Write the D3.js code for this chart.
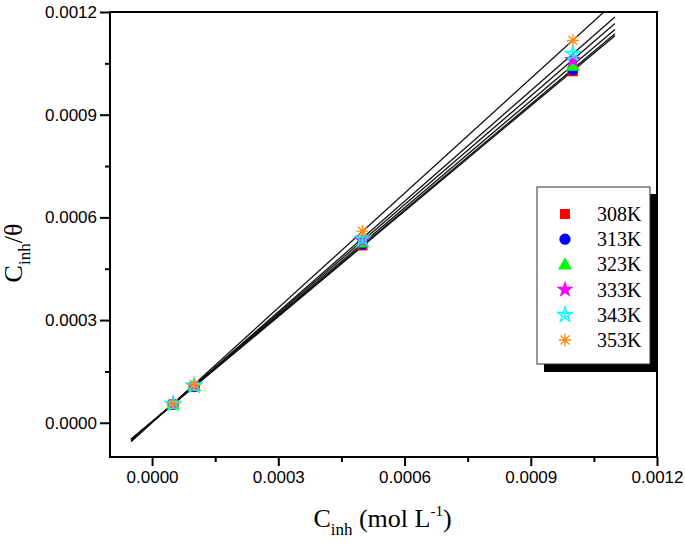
<!DOCTYPE html>
<html><head><meta charset="utf-8">
<script src="https://cdn.jsdelivr.net/npm/d3@7"></script>
<style>body{margin:0;background:#fff}svg{display:block}</style>
</head><body>
<svg id="chart" width="685" height="545"></svg>
<script>
// ---- data ----
const concentrations = [0.00005, 0.0001, 0.0005, 0.001];
const temperatures = ["308K", "313K", "323K", "333K", "343K", "353K"];
const values308 = [0.0000530, 0.000105, 0.000518, 0.001027];
const values313 = [0.0000535, 0.000106, 0.000522, 0.001032];
const values323 = [0.0000540, 0.000107, 0.000527, 0.001043];
const values333 = [0.0000545, 0.000108, 0.000533, 0.001060];
const values343 = [0.0000550, 0.000109, 0.000538, 0.001078];
const values353 = [0.0000560, 0.000112, 0.000560, 0.001117];
const seriesValues = [values308, values313, values323, values333, values343, values353];
const fitRange = [-0.00005, 0.0011];
const xTickValues = [0, 0.0003, 0.0006, 0.0009, 0.0012];
const xMinorTickValues = [0.00015, 0.00045, 0.00075, 0.00105];
const yTickValues = [0, 0.0003, 0.0006, 0.0009, 0.0012];
const yMinorTickValues = [0.00015, 0.00045, 0.00075, 0.00105];

const colors = ["#ff0000", "#0000ff", "#00ff00", "#ff00ff", "#00ffff", "#ff8c1a"];
const shapes = ["square", "circle", "triangle", "star", "openstar", "asterisk"];

const svg = d3.select("#chart");
const L = 110, R = 657, T = 12, B = 457;
const x = d3.scaleLinear().domain([-0.0001, 0.0012]).range([L, R]);
const y = d3.scaleLinear().domain([-0.0001, 0.0012]).range([B, T]);
const fmt = d3.format(".4f");
const tickFont = "'Liberation Sans', Arial, sans-serif";
const serif = "'Liberation Serif', 'Times New Roman', serif";

// clip
svg.append("defs").append("clipPath").attr("id", "clip")
  .append("rect").attr("x", L).attr("y", T).attr("width", R - L).attr("height", B - T);

// fit lines (least squares from the data)
function fit(xs, ys) {
  const mx = d3.mean(xs), my = d3.mean(ys);
  let sxy = 0, sxx = 0;
  xs.forEach((xv, i) => { sxy += (xv - mx) * (ys[i] - my); sxx += (xv - mx) * (xv - mx); });
  const m = sxy / sxx;
  return { m, b: my - m * mx };
}
const lineGen = d3.line().x(d => x(d[0])).y(d => y(d[1]));
const gLines = svg.append("g").attr("clip-path", "url(#clip)");
seriesValues.forEach(vals => {
  const f = fit(concentrations, vals);
  const pts = fitRange.map(xv => [xv, f.m * xv + f.b]);
  gLines.append("path").attr("d", lineGen(pts))
    .attr("fill", "none").attr("stroke", "#111").attr("stroke-width", 1.3);
});

// marker drawing
function drawMarker(g, shape, color, cx, cy) {
  const t = `translate(${cx},${cy})`;
  if (shape === "square") {
    g.append("path").attr("d", d3.symbol(d3.symbolSquare, 100)()).attr("transform", t).attr("fill", color);
  } else if (shape === "circle") {
    g.append("path").attr("d", d3.symbol(d3.symbolCircle, 100)()).attr("transform", t).attr("fill", color);
  } else if (shape === "triangle") {
    g.append("path").attr("d", d3.symbol(d3.symbolTriangle, 85)()).attr("transform", t + " translate(0,1)").attr("fill", color);
  } else if (shape === "star") {
    g.append("path").attr("d", d3.symbol(d3.symbolStar, 95)()).attr("transform", t).attr("fill", color);
  } else if (shape === "openstar") {
    g.append("path").attr("d", d3.symbol(d3.symbolStar, 70)()).attr("transform", t)
      .attr("fill", "none").attr("stroke", color).attr("stroke-width", 1.3);
    g.append("path").attr("d", "M-4.5,-1.5L4.5,-1.5M-3.5,1.5L3.5,1.5M0,-5L0,4").attr("transform", t)
      .attr("fill", "none").attr("stroke", color).attr("stroke-width", 1.2);
  } else if (shape === "asterisk") {
    const r = 6.2;
    let d = "";
    [0, 45, 90, 135].forEach(a => {
      const rad = a * Math.PI / 180;
      const dx = r * Math.cos(rad), dy = r * Math.sin(rad);
      d += `M${dx},${dy}L${-dx},${-dy}`;
    });
    g.append("path").attr("d", d).attr("transform", t)
      .attr("fill", "none").attr("stroke", color).attr("stroke-width", 1.4);
  }
}

// points
const gPts = svg.append("g");
seriesValues.forEach((vals, si) => {
  vals.forEach((v, i) => drawMarker(gPts, shapes[si], colors[si], x(concentrations[i]), y(v)));
});

// frame
svg.append("rect").attr("x", L).attr("y", T).attr("width", R - L).attr("height", B - T)
  .attr("fill", "none").attr("stroke", "#000").attr("stroke-width", 2);

// axes
const xAxis = svg.append("g").attr("transform", `translate(0,${B})`)
  .call(d3.axisBottom(x).tickValues(xTickValues).tickFormat(fmt).tickSize(9).tickPadding(5));
const xMinor = svg.append("g").attr("transform", `translate(0,${B})`)
  .call(d3.axisBottom(x).tickValues(xMinorTickValues).tickFormat("").tickSize(5));
const yAxis = svg.append("g").attr("transform", `translate(${L},0)`)
  .call(d3.axisLeft(y).tickValues(yTickValues).tickFormat(fmt).tickSize(10).tickPadding(3));
const yMinor = svg.append("g").attr("transform", `translate(${L},0)`)
  .call(d3.axisLeft(y).tickValues(yMinorTickValues).tickFormat("").tickSize(5));
[xAxis, xMinor, yAxis, yMinor].forEach(a => {
  a.select(".domain").remove();
  a.selectAll("line").attr("stroke", "#000").attr("stroke-width", 2);
  a.selectAll("text").attr("font-family", tickFont).attr("font-size", 17).attr("fill", "#000");
});

// axis titles
const xt = svg.append("text").attr("x", (L + R) / 2 - 1).attr("y", 527)
  .attr("text-anchor", "middle").attr("font-family", serif).attr("font-size", 26).attr("fill", "#000");
xt.append("tspan").text("C");
xt.append("tspan").attr("font-size", 17).attr("dy", 8).text("inh");
xt.append("tspan").attr("dy", -8).text(" (mol L");
xt.append("tspan").attr("font-size", 15).attr("dy", -11).text("-1");
xt.append("tspan").attr("dy", 11).text(")");

const yt = svg.append("text").attr("transform", "translate(22,253) rotate(-90)")
  .attr("text-anchor", "middle").attr("font-family", serif).attr("font-size", 26).attr("fill", "#000");
yt.append("tspan").text("C");
yt.append("tspan").attr("font-size", 17).attr("dy", 8).text("inh");
yt.append("tspan").attr("dy", -8).text("/θ");

// legend
const lg = svg.append("g");
lg.append("rect").attr("x", 544).attr("y", 194).attr("width", 113).attr("height", 178).attr("fill", "#000");
lg.append("rect").attr("x", 537).attr("y", 187).attr("width", 113).attr("height", 177)
  .attr("fill", "#fff").attr("stroke", "#333").attr("stroke-width", 1);
temperatures.forEach((lab, i) => {
  const cy = 214 + i * 25.2;
  drawMarker(lg, shapes[i], colors[i], 565, cy);
  lg.append("text").attr("x", 597).attr("y", cy + 7).attr("font-family", serif)
    .attr("font-size", 20).attr("fill", "#000").text(lab);
});
</script>
</body></html>
